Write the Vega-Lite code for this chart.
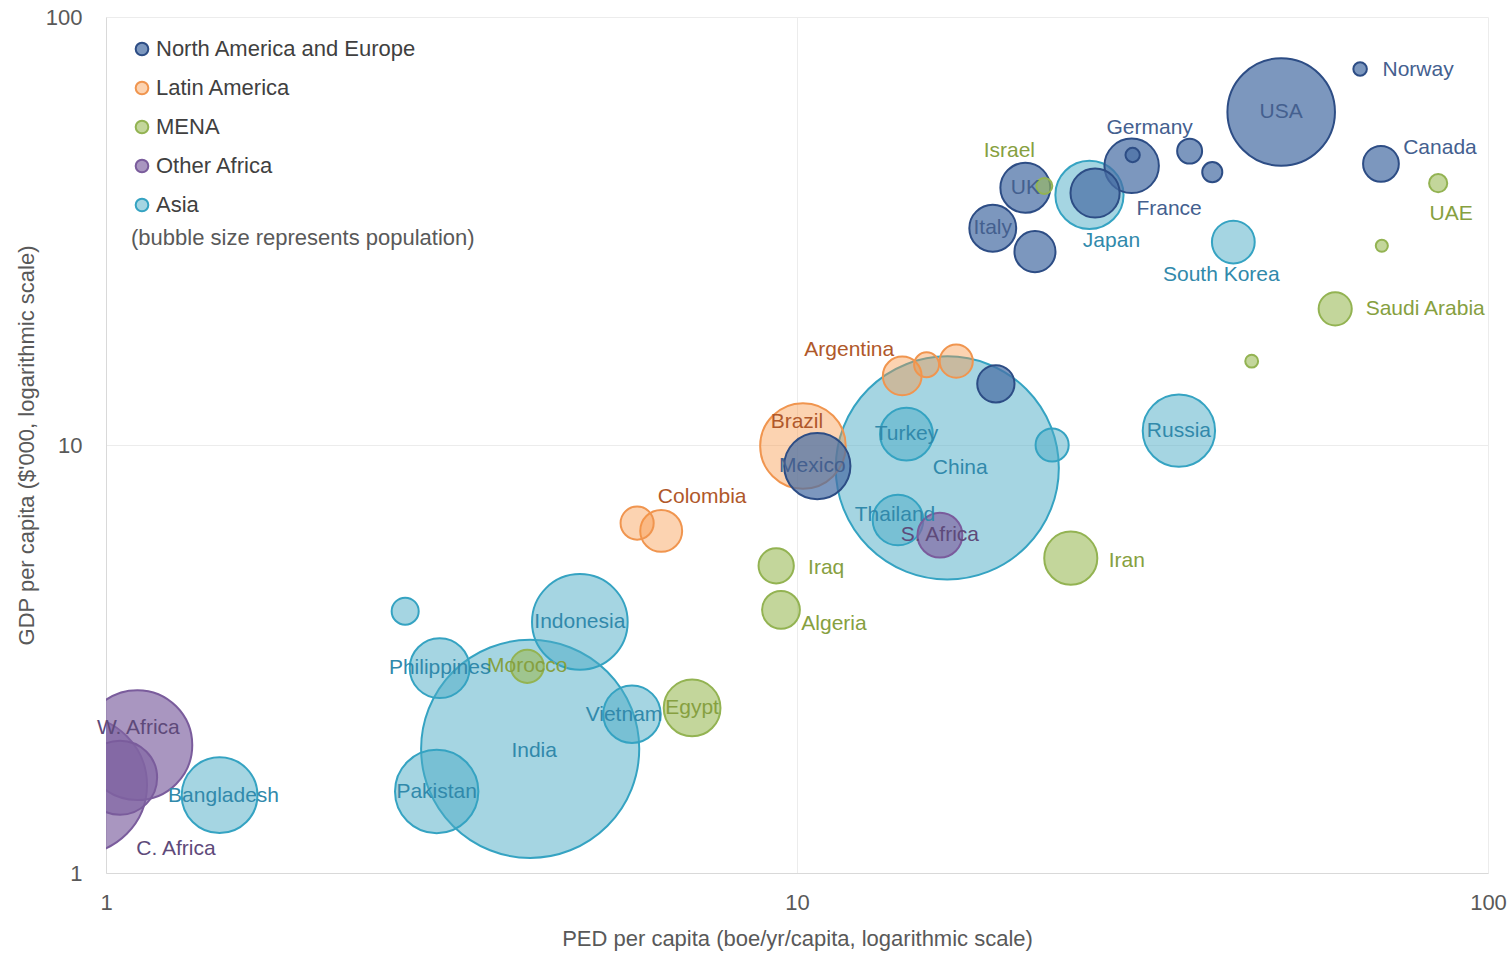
{
  "$schema": "https://vega.github.io/schema/vega-lite/v6.json",
  "width": 1382,
  "height": 856,
  "autosize": {"type": "none"},
  "padding": {"left": 106, "top": 17, "right": 24, "bottom": 82},
  "background": "white",
  "config": {
    "font": "Liberation Sans",
    "view": {"stroke": null},
    "axis": {
      "labelFont": "Liberation Sans",
      "titleFont": "Liberation Sans",
      "labelColor": "#595959",
      "titleColor": "#595959",
      "labelFontSize": 22,
      "titleFontSize": 22,
      "titleFontWeight": "normal",
      "ticks": false,
      "domainColor": "#d9d9d9",
      "gridColor": "#ececec",
      "labelFlush": false
    },
    "legend": {
      "labelFont": "Liberation Sans",
      "titleFont": "Liberation Sans"
    }
  },
  "data": {
    "values": [
      {"name": "USA", "region": "North America and Europe", "ped": 50.2, "gdp": 60.0, "pop": 316},
      {"name": "Norway", "region": "North America and Europe", "ped": 65.3, "gdp": 75.6, "pop": 5},
      {"name": "Canada", "region": "North America and Europe", "ped": 70.0, "gdp": 45.4, "pop": 35},
      {"name": "Germany", "region": "North America and Europe", "ped": 30.5, "gdp": 44.9, "pop": 81},
      {"name": "Denmark", "region": "North America and Europe", "ped": 30.6, "gdp": 47.6, "pop": 5.6},
      {"name": "Netherlands", "region": "North America and Europe", "ped": 37.0, "gdp": 48.6, "pop": 17},
      {"name": "Belgium", "region": "North America and Europe", "ped": 39.9, "gdp": 43.4, "pop": 11},
      {"name": "UK", "region": "North America and Europe", "ped": 21.4, "gdp": 39.9, "pop": 68},
      {"name": "France", "region": "North America and Europe", "ped": 27.0, "gdp": 38.8, "pop": 66},
      {"name": "Italy", "region": "North America and Europe", "ped": 19.2, "gdp": 32.1, "pop": 60},
      {"name": "Spain", "region": "North America and Europe", "ped": 22.1, "gdp": 28.3, "pop": 46},
      {"name": "Poland", "region": "North America and Europe", "ped": 19.4, "gdp": 13.9, "pop": 38},
      {"name": "Mexico", "region": "North America and Europe", "ped": 10.7, "gdp": 8.93, "pop": 120},
      {"name": "Argentina", "region": "Latin America", "ped": 14.2, "gdp": 14.5, "pop": 41},
      {"name": "Chile", "region": "Latin America", "ped": 15.4, "gdp": 15.4, "pop": 17},
      {"name": "Venezuela", "region": "Latin America", "ped": 17.0, "gdp": 15.7, "pop": 30},
      {"name": "Brazil", "region": "Latin America", "ped": 10.2, "gdp": 9.95, "pop": 200},
      {"name": "Colombia", "region": "Latin America", "ped": 6.36, "gdp": 6.30, "pop": 48},
      {"name": "Peru", "region": "Latin America", "ped": 5.87, "gdp": 6.57, "pop": 30},
      {"name": "Israel", "region": "MENA", "ped": 22.8, "gdp": 40.3, "pop": 7},
      {"name": "UAE", "region": "MENA", "ped": 84.7, "gdp": 40.9, "pop": 9},
      {"name": "Kuwait", "region": "MENA", "ped": 70.2, "gdp": 29.2, "pop": 4},
      {"name": "Saudi Arabia", "region": "MENA", "ped": 60.1, "gdp": 20.8, "pop": 30},
      {"name": "Oman", "region": "MENA", "ped": 45.5, "gdp": 15.7, "pop": 4.5},
      {"name": "Iran", "region": "MENA", "ped": 24.9, "gdp": 5.44, "pop": 77},
      {"name": "Iraq", "region": "MENA", "ped": 9.33, "gdp": 5.22, "pop": 34},
      {"name": "Algeria", "region": "MENA", "ped": 9.48, "gdp": 4.12, "pop": 39},
      {"name": "Morocco", "region": "MENA", "ped": 4.07, "gdp": 3.04, "pop": 30},
      {"name": "Egypt", "region": "MENA", "ped": 7.05, "gdp": 2.43, "pop": 88},
      {"name": "S. Africa", "region": "Other Africa", "ped": 16.1, "gdp": 6.16, "pop": 55},
      {"name": "W. Africa", "region": "Other Africa", "ped": 1.11, "gdp": 1.99, "pop": 330},
      {"name": "E. Africa", "region": "Other Africa", "ped": 1.048, "gdp": 1.67, "pop": 150},
      {"name": "C. Africa", "region": "Other Africa", "ped": 0.911, "gdp": 1.605, "pop": 520},
      {"name": "Japan", "region": "Asia", "ped": 26.5, "gdp": 38.4, "pop": 127},
      {"name": "South Korea", "region": "Asia", "ped": 42.8, "gdp": 29.8, "pop": 50},
      {"name": "China", "region": "Asia", "ped": 16.5, "gdp": 8.84, "pop": 1360},
      {"name": "Turkey", "region": "Asia", "ped": 14.4, "gdp": 10.6, "pop": 76},
      {"name": "Malaysia", "region": "Asia", "ped": 23.4, "gdp": 10.0, "pop": 30},
      {"name": "Thailand", "region": "Asia", "ped": 14.0, "gdp": 6.68, "pop": 70},
      {"name": "Russia", "region": "Asia", "ped": 35.7, "gdp": 10.8, "pop": 143},
      {"name": "Indonesia", "region": "Asia", "ped": 4.85, "gdp": 3.86, "pop": 250},
      {"name": "Sri Lanka", "region": "Asia", "ped": 2.71, "gdp": 4.09, "pop": 20},
      {"name": "Philippines", "region": "Asia", "ped": 3.04, "gdp": 3.01, "pop": 98},
      {"name": "India", "region": "Asia", "ped": 4.11, "gdp": 1.95, "pop": 1300},
      {"name": "Vietnam", "region": "Asia", "ped": 5.77, "gdp": 2.35, "pop": 90},
      {"name": "Pakistan", "region": "Asia", "ped": 3.01, "gdp": 1.55, "pop": 190},
      {"name": "Bangladesh", "region": "Asia", "ped": 1.46, "gdp": 1.52, "pop": 157}
    ]
  },
  "encoding": {
    "x": {
      "field": "ped",
      "type": "quantitative",
      "scale": {"type": "log", "domain": [1, 100], "nice": false},
      "axis": {
        "title": "PED per capita (boe/yr/capita, logarithmic scale)",
        "values": [1, 10, 100],
        "format": "d",
        "labelPadding": 19,
        "titlePadding": 15,
        "grid": true
      }
    },
    "y": {
      "field": "gdp",
      "type": "quantitative",
      "scale": {"type": "log", "domain": [1, 100], "nice": false},
      "axis": {
        "title": "GDP per capita ($'000, logarithmic scale)",
        "values": [1, 10, 100],
        "format": "d",
        "labelPadding": 24,
        "titlePadding": 7,
        "grid": true
      }
    }
  },
  "layer": [
    {
      "mark": {"type": "circle", "clip": true, "strokeWidth": 2, "opacity": 1},
      "encoding": {
        "size": {
          "field": "pop",
          "type": "quantitative",
          "scale": {"type": "linear", "domain": [0, 1400], "range": [0, 51240], "zero": true},
          "legend": null
        },
        "order": {"field": "pop", "sort": "descending"},
        "fill": {
          "field": "region",
          "type": "nominal",
          "scale": {
            "domain": ["North America and Europe", "Latin America", "MENA", "Other Africa", "Asia"],
            "range": ["rgba(74,111,165,0.72)", "rgba(247,150,70,0.42)", "rgba(155,187,89,0.6)", "rgba(128,100,162,0.68)", "rgba(75,172,198,0.5)"]
          },
          "legend": {
            "orient": "none",
            "legendX": 25,
            "legendY": 21,
            "padding": 0,
            "title": "(bubble size represents population)",
            "titleOrient": "bottom",
            "titleFontSize": 22,
            "titleFontWeight": "normal",
            "titleColor": "#595959",
            "titlePadding": 12,
            "titleLimit": 600,
            "labelFontSize": 22,
            "labelColor": "#404040",
            "labelOffset": 3,
            "labelLimit": 500,
            "symbolType": "circle",
            "symbolSize": 160,
            "symbolStrokeWidth": 2,
            "rowPadding": 17
          }
        },
        "stroke": {
          "field": "region",
          "type": "nominal",
          "scale": {
            "domain": ["North America and Europe", "Latin America", "MENA", "Other Africa", "Asia"],
            "range": ["#2d4d85", "#f0954f", "#93b352", "#7a5c9c", "#35a3c2"]
          },
          "legend": {
            "orient": "none",
            "legendX": 25,
            "legendY": 21,
            "padding": 0,
            "title": "(bubble size represents population)",
            "titleOrient": "bottom",
            "titleFontSize": 22,
            "titleFontWeight": "normal",
            "titleColor": "#595959",
            "titlePadding": 12,
            "titleLimit": 600,
            "labelFontSize": 22,
            "labelColor": "#404040",
            "labelOffset": 3,
            "labelLimit": 500,
            "symbolType": "circle",
            "symbolSize": 160,
            "symbolStrokeWidth": 2,
            "rowPadding": 17
          }
        }
      }
    },
    {
      "encoding": {
        "text": {"field": "name", "type": "nominal"},
        "color": {
          "field": "region",
          "type": "nominal",
          "scale": {
            "domain": ["North America and Europe", "Latin America", "MENA", "Other Africa", "Asia"],
            "range": ["#44608f", "#b0582a", "#86a040", "#5e4a7a", "#3189ab"]
          },
          "legend": null
        }
      },
      "layer": [
        {"transform": [{"filter": {"field": "name", "oneOf": ["USA", "UK", "Italy", "Turkey", "Russia", "Indonesia", "Philippines", "Morocco", "Egypt", "Pakistan", "S. Africa"]}}], "mark": {"type": "text", "fontSize": 21, "align": "center", "baseline": "middle"}},
        {"transform": [{"filter": {"field": "name", "equal": "Mexico"}}], "mark": {"type": "text", "fontSize": 21, "align": "center", "baseline": "middle", "dx": -5, "dy": 0}},
        {"transform": [{"filter": {"field": "name", "equal": "China"}}], "mark": {"type": "text", "fontSize": 21, "align": "center", "baseline": "middle", "dx": 13, "dy": 0}},
        {"transform": [{"filter": {"field": "name", "equal": "Vietnam"}}], "mark": {"type": "text", "fontSize": 21, "align": "center", "baseline": "middle", "dx": -8, "dy": 1}},
        {"transform": [{"filter": {"field": "name", "equal": "India"}}], "mark": {"type": "text", "fontSize": 21, "align": "center", "baseline": "middle", "dx": 4, "dy": 2}},
        {"transform": [{"filter": {"field": "name", "equal": "Bangladesh"}}], "mark": {"type": "text", "fontSize": 21, "align": "center", "baseline": "middle", "dx": 4, "dy": 1}},
        {"transform": [{"filter": {"field": "name", "equal": "Thailand"}}], "mark": {"type": "text", "fontSize": 21, "align": "center", "baseline": "middle", "dx": -3, "dy": -5}},
        {"transform": [{"filter": {"field": "name", "equal": "Brazil"}}], "mark": {"type": "text", "fontSize": 21, "align": "center", "baseline": "middle", "dx": -6, "dy": -24}},
        {"transform": [{"filter": {"field": "name", "equal": "W. Africa"}}], "mark": {"type": "text", "fontSize": 21, "align": "center", "baseline": "middle", "dx": 1, "dy": -17}},
        {"transform": [{"filter": {"field": "name", "equal": "Norway"}}], "mark": {"type": "text", "fontSize": 21, "align": "center", "baseline": "middle", "dx": 58, "dy": 1}},
        {"transform": [{"filter": {"field": "name", "equal": "Canada"}}], "mark": {"type": "text", "fontSize": 21, "align": "center", "baseline": "middle", "dx": 59, "dy": -16}},
        {"transform": [{"filter": {"field": "name", "equal": "Germany"}}], "mark": {"type": "text", "fontSize": 21, "align": "center", "baseline": "middle", "dx": 18, "dy": -38}},
        {"transform": [{"filter": {"field": "name", "equal": "Israel"}}], "mark": {"type": "text", "fontSize": 21, "align": "center", "baseline": "middle", "dx": -35, "dy": -35}},
        {"transform": [{"filter": {"field": "name", "equal": "France"}}], "mark": {"type": "text", "fontSize": 21, "align": "center", "baseline": "middle", "dx": 74, "dy": 16}},
        {"transform": [{"filter": {"field": "name", "equal": "Japan"}}], "mark": {"type": "text", "fontSize": 21, "align": "center", "baseline": "middle", "dx": 22, "dy": 46}},
        {"transform": [{"filter": {"field": "name", "equal": "UAE"}}], "mark": {"type": "text", "fontSize": 21, "align": "center", "baseline": "middle", "dx": 13, "dy": 31}},
        {"transform": [{"filter": {"field": "name", "equal": "South Korea"}}], "mark": {"type": "text", "fontSize": 21, "align": "center", "baseline": "middle", "dx": -12, "dy": 33}},
        {"transform": [{"filter": {"field": "name", "equal": "Saudi Arabia"}}], "mark": {"type": "text", "fontSize": 21, "align": "center", "baseline": "middle", "dx": 90, "dy": 0}},
        {"transform": [{"filter": {"field": "name", "equal": "Argentina"}}], "mark": {"type": "text", "fontSize": 21, "align": "center", "baseline": "middle", "dx": -53, "dy": -26}},
        {"transform": [{"filter": {"field": "name", "equal": "Colombia"}}], "mark": {"type": "text", "fontSize": 21, "align": "center", "baseline": "middle", "dx": 41, "dy": -34}},
        {"transform": [{"filter": {"field": "name", "equal": "Iran"}}], "mark": {"type": "text", "fontSize": 21, "align": "center", "baseline": "middle", "dx": 56, "dy": 3}},
        {"transform": [{"filter": {"field": "name", "equal": "Iraq"}}], "mark": {"type": "text", "fontSize": 21, "align": "center", "baseline": "middle", "dx": 50, "dy": 2}},
        {"transform": [{"filter": {"field": "name", "equal": "Algeria"}}], "mark": {"type": "text", "fontSize": 21, "align": "center", "baseline": "middle", "dx": 53, "dy": 14}},
        {"transform": [{"filter": {"field": "name", "equal": "C. Africa"}}], "mark": {"type": "text", "fontSize": 21, "align": "center", "baseline": "middle", "dx": 98, "dy": 64}}
      ]
    }
  ]
}
